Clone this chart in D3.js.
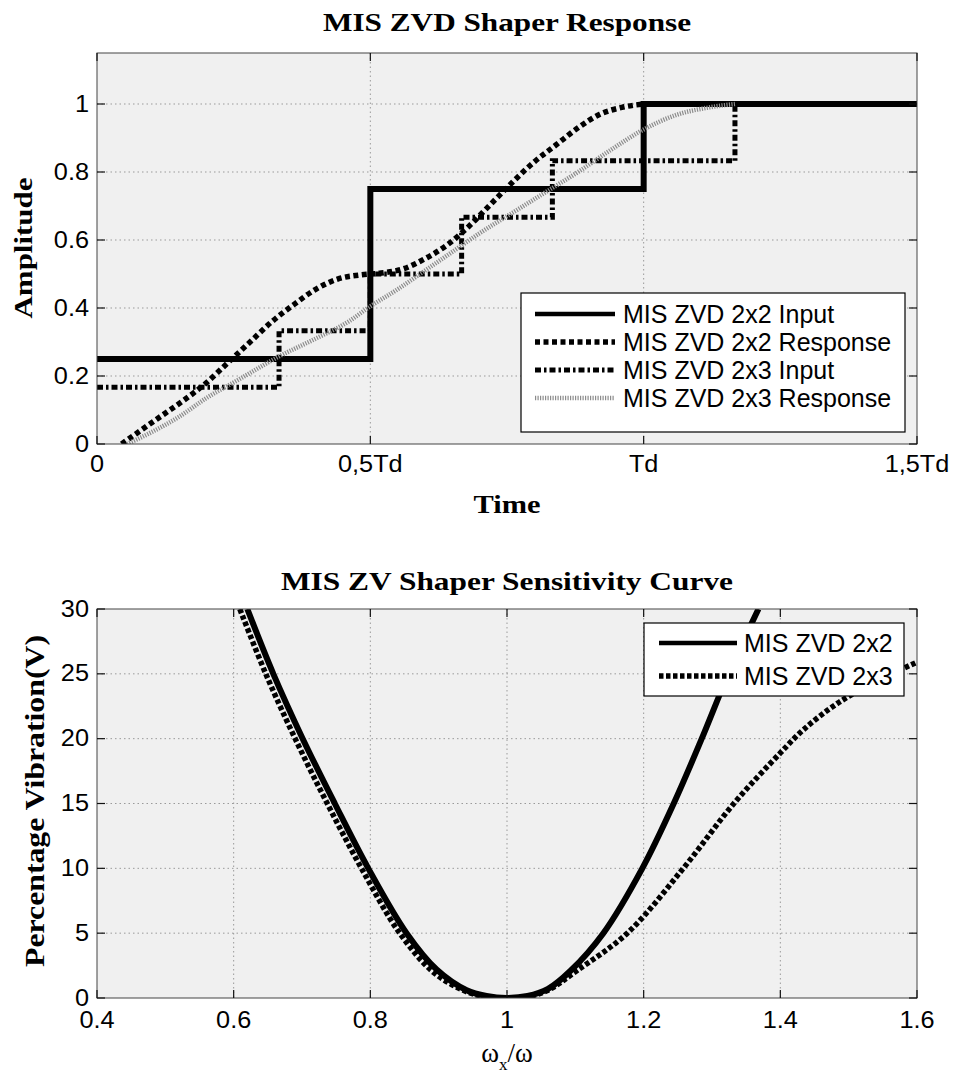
<!DOCTYPE html>
<html>
<head>
<meta charset="utf-8">
<script src="https://cdn.jsdelivr.net/npm/d3@7"></script>
<style>
  body { margin: 0; background: #fff; }
  svg { display: block; }
</style>
</head>
<body>
<svg id="fig" width="957" height="1079"></svg>
<script>
// ---------- Shaper response (time in units of Td) ----------
const timeTicks = [0, 0.5, 1, 1.5];
const timeTickLabels = ["0", "0,5Td", "Td", "1,5Td"];
const ampTicks = [0, 0.2, 0.4, 0.6, 0.8, 1];
const ampTickLabels = ["0", "0.2", "0.4", "0.6", "0.8", "1"];

const input2x2Time = [0, 0.5, 1, 1.5];
const input2x2Amp  = [0.25, 0.75, 1, 1];

const response2x2Time = [0.045, 0.08, 0.12, 0.16, 0.20, 0.24, 0.28, 0.32, 0.36, 0.40, 0.44, 0.48, 0.52,
                         0.56, 0.60, 0.64, 0.68, 0.72, 0.76, 0.80, 0.84, 0.88, 0.92, 0.96, 1.00];
const response2x2Amp  = [0.0, 0.04, 0.085, 0.13, 0.18, 0.24, 0.30, 0.36, 0.41, 0.455, 0.485, 0.497, 0.503,
                         0.515, 0.545, 0.585, 0.64, 0.705, 0.77, 0.83, 0.88, 0.93, 0.97, 0.99, 1.0];

const input2x3Time = [0, 0.333, 0.5, 0.667, 0.833, 1.167, 1.5];
const input2x3Amp  = [0.167, 0.333, 0.5, 0.667, 0.833, 1, 1];

const response2x3Time = [0.055, 0.10, 0.15, 0.20, 0.26, 0.33, 0.40, 0.46, 0.50, 0.55, 0.60,
                         0.65, 0.70, 0.76, 0.82, 0.88, 0.94, 1.00, 1.06, 1.12, 1.167];
const response2x3Amp  = [0.0, 0.035, 0.08, 0.135, 0.19, 0.255, 0.31, 0.36, 0.405, 0.455, 0.51,
                         0.565, 0.62, 0.68, 0.74, 0.80, 0.865, 0.925, 0.968, 0.99, 1.0];

const responseLegend = ["MIS ZVD 2x2 Input", "MIS ZVD 2x2 Response", "MIS ZVD 2x3 Input", "MIS ZVD 2x3 Response"];

// ---------- Sensitivity curve ----------
const ratioTicks = [0.4, 0.6, 0.8, 1.0, 1.2, 1.4, 1.6];
const ratioTickLabels = ["0.4", "0.6", "0.8", "1", "1.2", "1.4", "1.6"];
const vibTicks = [0, 5, 10, 15, 20, 25, 30];
const vibTickLabels = ["0", "5", "10", "15", "20", "25", "30"];

const sens2x2Ratio = [0.620, 0.658, 0.701, 0.748, 0.797, 0.853, 0.897, 0.941, 0.97, 1.0,
                      1.03, 1.06, 1.093, 1.141, 1.198, 1.244, 1.285, 1.324, 1.368];
const sens2x2Vib   = [30, 25, 20, 15, 10, 5, 2.2, 0.6, 0.15, 0,
                      0.15, 0.7, 2.1, 5, 10, 15, 20, 25, 30];

const sens2x3Ratio = [0.609, 0.647, 0.690, 0.737, 0.787, 0.843, 0.892, 0.94, 0.97, 1.0,
                      1.03, 1.06, 1.102, 1.176, 1.258, 1.332, 1.40, 1.434, 1.483, 1.54, 1.6];
const sens2x3Vib   = [30, 25, 20, 15, 10, 5, 2, 0.5, 0.1, 0,
                      0.1, 0.6, 2.1, 5, 10, 15, 18.9, 20.7, 22.7, 24.4, 25.9];

const sensLegend = ["MIS ZVD 2x2", "MIS ZVD 2x3"];

// ---------- drawing ----------
const SERIF = "'Liberation Serif', 'Times New Roman', serif";
const SANS = "'Liberation Sans', Arial, sans-serif";
const svg = d3.select("#fig");

// stretch a text element to a given length
function fitTo(sel, len) {
  sel.attr("textLength", len).attr("lengthAdjust", "spacingAndGlyphs");
}
function widen(sel, k) {
  sel.each(function () {
    const w = this.getComputedTextLength();
    d3.select(this).attr("textLength", w * k).attr("lengthAdjust", "spacingAndGlyphs");
  });
}

function panel(cfg) {
  const { id, x0, x1, y0, y1, x, y, xTicks, xLabels, yTicks, yLabels, xLabelBase } = cfg;
  const g = svg.append("g");

  g.append("clipPath").attr("id", id + "-clip")
    .append("rect").attr("x", x0).attr("y", y0).attr("width", x1 - x0).attr("height", y1 - y0);

  g.append("rect").attr("x", x0).attr("y", y0).attr("width", x1 - x0).attr("height", y1 - y0)
    .attr("fill", "#f0f0f0");

  // dotted grid
  const grid = g.append("g").attr("stroke", "#9a9a9a").attr("stroke-width", 1)
    .attr("stroke-dasharray", "1.5,3");
  grid.selectAll("line.v").data(xTicks.filter(t => x(t) > x0 + 1 && x(t) < x1 - 1)).join("line")
    .attr("class", "v")
    .attr("x1", d => x(d)).attr("x2", d => x(d)).attr("y1", y0).attr("y2", y1);
  grid.selectAll("line.h").data(yTicks.filter(t => y(t) > y0 + 1 && y(t) < y1 - 1)).join("line")
    .attr("class", "h")
    .attr("y1", d => y(d)).attr("y2", d => y(d)).attr("x1", x0).attr("x2", x1);

  const plot = g.append("g").attr("clip-path", `url(#${id}-clip)`);

  // frame and inward ticks
  const frame = g.append("g");
  frame.append("rect").attr("x", x0).attr("y", y0).attr("width", x1 - x0).attr("height", y1 - y0)
    .attr("fill", "none").attr("stroke", "#444").attr("stroke-width", 1);
  const tk = frame.append("g").attr("stroke", "#111").attr("stroke-width", 1.2);
  xTicks.forEach(t => {
    tk.append("line").attr("x1", x(t)).attr("x2", x(t)).attr("y1", y1).attr("y2", y1 - 8);
    tk.append("line").attr("x1", x(t)).attr("x2", x(t)).attr("y1", y0).attr("y2", y0 + 8);
  });
  yTicks.forEach(t => {
    tk.append("line").attr("y1", y(t)).attr("y2", y(t)).attr("x1", x0).attr("x2", x0 + 8);
    tk.append("line").attr("y1", y(t)).attr("y2", y(t)).attr("x1", x1).attr("x2", x1 - 8);
  });

  // tick labels
  const xl = g.append("g").attr("font-family", SANS).attr("font-size", 23).attr("text-anchor", "middle")
    .selectAll("text").data(xTicks).join("text")
    .attr("x", d => x(d)).attr("y", xLabelBase).text((d, i) => xLabels[i]);
  widen(xl, 1.1);
  const yl = g.append("g").attr("font-family", SANS).attr("font-size", 23).attr("text-anchor", "end")
    .selectAll("text").data(yTicks).join("text")
    .attr("x", x0 - 8).attr("y", d => y(d)).attr("dy", "0.33em").text((d, i) => yLabels[i]);
  widen(yl, 1.1);

  return { g, plot, frame };
}

// ===== Top panel: response =====
const T = { x0: 97, x1: 917, y0: 53, y1: 444 };
const xT = d3.scaleLinear().domain([0, 1.5]).range([T.x0, T.x1]);
const yT = d3.scaleLinear().domain([0, 1.15]).range([T.y1, T.y0]);
const respPanel = panel({ id: "resp", ...T, x: xT, y: yT,
  xTicks: timeTicks, xLabels: timeTickLabels, yTicks: ampTicks, yLabels: ampTickLabels, xLabelBase: 472 });

const stepLine = d3.line().x(d => xT(d[0])).y(d => yT(d[1])).curve(d3.curveStepAfter);
const smoothLine = d3.line().x(d => xT(d[0])).y(d => yT(d[1])).curve(d3.curveMonotoneX);

const respStyles = [
  { stroke: "#000", width: 6, dash: null },
  { stroke: "#000", width: 5.5, dash: "5,3.5" },
  { stroke: "#000", width: 5, dash: "6,3,2.5,3" },
  { stroke: "#8c8c8c", width: 4.5, dash: "1.2,1.3" }
];

respPanel.plot.append("path").attr("d", stepLine(d3.zip(input2x2Time, input2x2Amp)))
  .attr("fill", "none").attr("stroke", respStyles[0].stroke).attr("stroke-width", respStyles[0].width);
respPanel.plot.append("path").attr("d", smoothLine(d3.zip(response2x2Time, response2x2Amp)))
  .attr("fill", "none").attr("stroke", respStyles[1].stroke).attr("stroke-width", respStyles[1].width)
  .attr("stroke-dasharray", respStyles[1].dash);
respPanel.plot.append("path").attr("d", stepLine(d3.zip(input2x3Time, input2x3Amp)))
  .attr("fill", "none").attr("stroke", respStyles[2].stroke).attr("stroke-width", respStyles[2].width)
  .attr("stroke-dasharray", respStyles[2].dash);
respPanel.plot.append("path").attr("d", smoothLine(d3.zip(response2x3Time, response2x3Amp)))
  .attr("fill", "none").attr("stroke", respStyles[3].stroke).attr("stroke-width", respStyles[3].width)
  .attr("stroke-dasharray", respStyles[3].dash);
respPanel.frame.raise();

// titles / axis labels
fitTo(svg.append("text").attr("x", 507).attr("y", 31).attr("text-anchor", "middle")
  .attr("font-family", SERIF).attr("font-weight", "bold").attr("font-size", 26)
  .text("MIS ZVD Shaper Response"), 368);
fitTo(svg.append("text").attr("x", 507).attr("y", 513).attr("text-anchor", "middle")
  .attr("font-family", SERIF).attr("font-weight", "bold").attr("font-size", 26)
  .text("Time"), 67);
fitTo(svg.append("text").attr("transform", "translate(32,248) rotate(-90)").attr("text-anchor", "middle")
  .attr("font-family", SERIF).attr("font-weight", "bold").attr("font-size", 25)
  .text("Amplitude"), 141);

// legend
{
  const lg = svg.append("g");
  lg.append("rect").attr("x", 521).attr("y", 293).attr("width", 384).attr("height", 139)
    .attr("fill", "#fff").attr("stroke", "#000").attr("stroke-width", 1.2);
  const rows = [314, 342, 370, 398];
  responseLegend.forEach((name, i) => {
    const s = respStyles[i];
    lg.append("line").attr("x1", 535).attr("x2", 615).attr("y1", rows[i]).attr("y2", rows[i])
      .attr("stroke", s.stroke).attr("stroke-width", i === 0 ? 4.5 : s.width)
      .attr("stroke-dasharray", s.dash);
    lg.append("text").attr("x", 623).attr("y", rows[i]).attr("dy", "0.36em")
      .attr("font-family", SANS).attr("font-size", 25).text(name);
  });
}

// ===== Bottom panel: sensitivity =====
const B = { x0: 97, x1: 917, y0: 609, y1: 998 };
const xB = d3.scaleLinear().domain([0.4, 1.6]).range([B.x0, B.x1]);
const yB = d3.scaleLinear().domain([0, 30]).range([B.y1, B.y0]);
const sensPanel = panel({ id: "sens", ...B, x: xB, y: yB,
  xTicks: ratioTicks, xLabels: ratioTickLabels, yTicks: vibTicks, yLabels: vibTickLabels, xLabelBase: 1028 });

const sensLine = d3.line().x(d => xB(d[0])).y(d => yB(d[1])).curve(d3.curveCatmullRom.alpha(0.5));
const sensStyles = [
  { stroke: "#000", width: 6, dash: null },
  { stroke: "#000", width: 5.5, dash: "4.5,2.5" }
];
sensPanel.plot.append("path").attr("d", sensLine(d3.zip(sens2x2Ratio, sens2x2Vib)))
  .attr("fill", "none").attr("stroke", sensStyles[0].stroke).attr("stroke-width", sensStyles[0].width);
sensPanel.plot.append("path").attr("d", sensLine(d3.zip(sens2x3Ratio, sens2x3Vib)))
  .attr("fill", "none").attr("stroke", sensStyles[1].stroke).attr("stroke-width", sensStyles[1].width)
  .attr("stroke-dasharray", sensStyles[1].dash);
sensPanel.frame.raise();

fitTo(svg.append("text").attr("x", 507).attr("y", 590).attr("text-anchor", "middle")
  .attr("font-family", SERIF).attr("font-weight", "bold").attr("font-size", 26)
  .text("MIS ZV Shaper Sensitivity Curve"), 452);
fitTo(svg.append("text").attr("transform", "translate(44,801) rotate(-90)").attr("text-anchor", "middle")
  .attr("font-family", SERIF).attr("font-weight", "bold").attr("font-size", 27)
  .text("Percentage Vibration(V)"), 332);
{
  const t = svg.append("text").attr("x", 507).attr("y", 1062).attr("text-anchor", "middle")
    .attr("font-family", SERIF).attr("font-size", 27);
  t.append("tspan").text("ω");
  t.append("tspan").attr("font-size", 17).attr("dy", 8).text("x");
  t.append("tspan").attr("dy", -8).text("/ω");
}

{
  const lg = svg.append("g");
  lg.append("rect").attr("x", 644).attr("y", 623).attr("width", 260).attr("height", 73)
    .attr("fill", "#fff").attr("stroke", "#000").attr("stroke-width", 1.2);
  const rows = [643, 676];
  sensLegend.forEach((name, i) => {
    const s = sensStyles[i];
    lg.append("line").attr("x1", 659).attr("x2", 737).attr("y1", rows[i]).attr("y2", rows[i])
      .attr("stroke", s.stroke).attr("stroke-width", i === 0 ? 4.5 : s.width)
      .attr("stroke-dasharray", s.dash);
    lg.append("text").attr("x", 744).attr("y", rows[i]).attr("dy", "0.36em")
      .attr("font-family", SANS).attr("font-size", 25).text(name);
  });
}
</script>
</body>
</html>
